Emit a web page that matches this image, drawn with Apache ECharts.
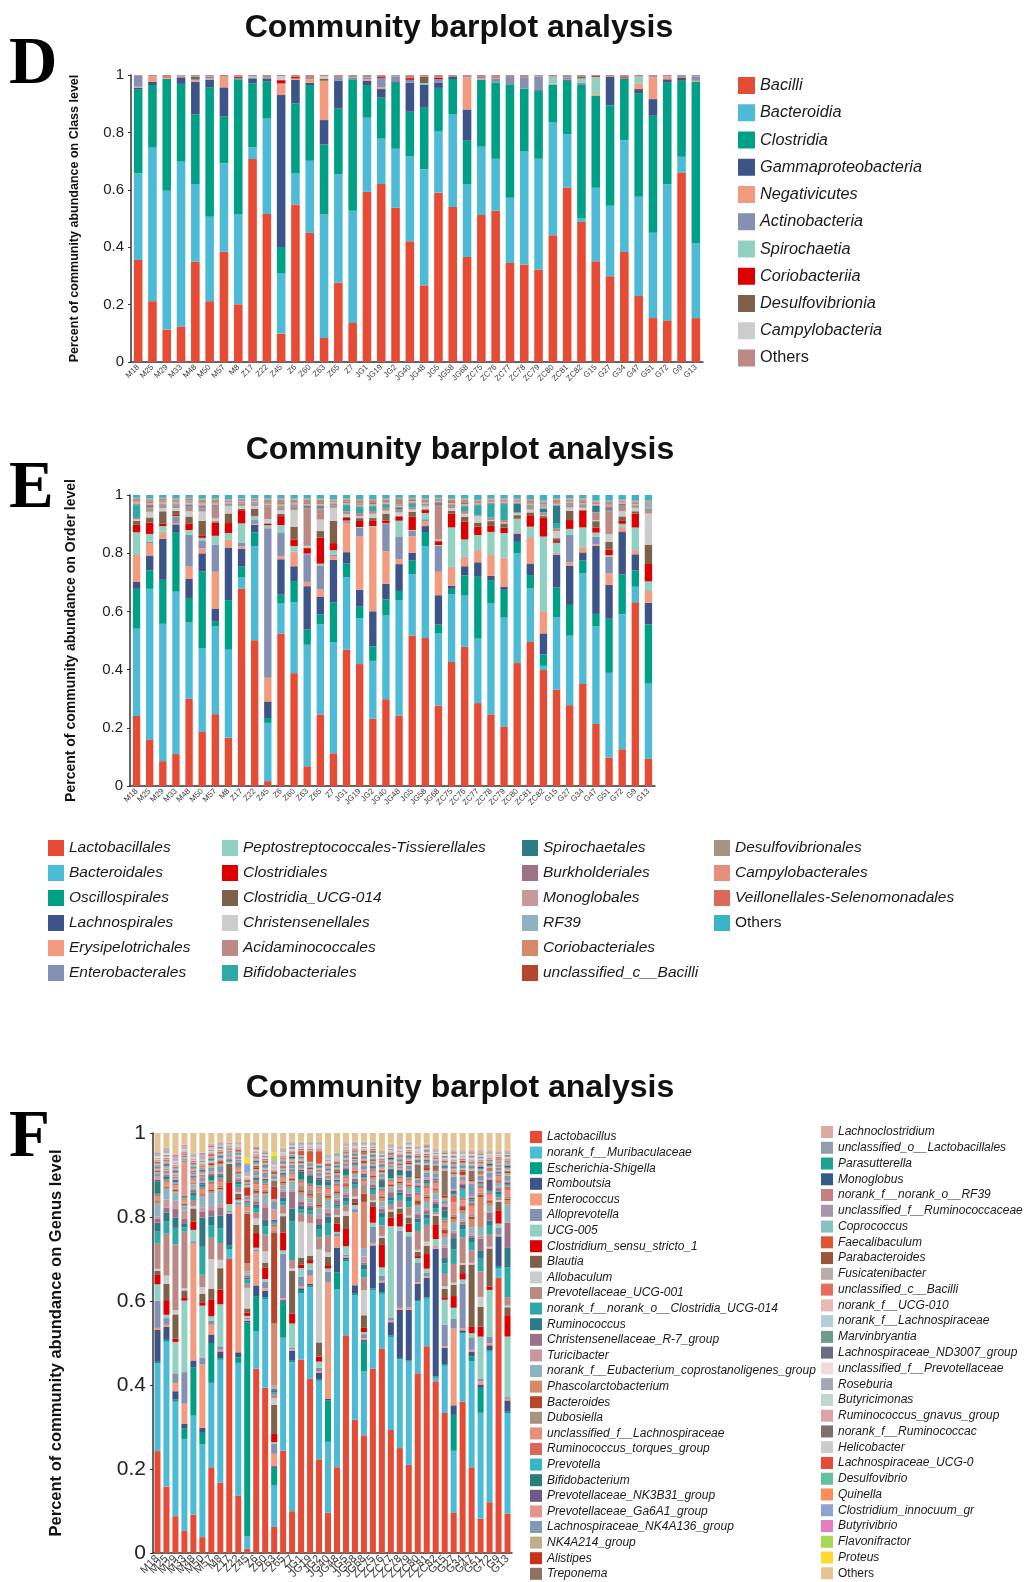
<!DOCTYPE html>
<html>
<head>
<meta charset="utf-8">
<script src="https://cdn.jsdelivr.net/npm/echarts/dist/echarts.min.js"></script>
<style>
  html, body { margin: 0; padding: 0; background: #ffffff; }
  #chart { width: 1024px; height: 1582px; }
</style>
</head>
<body>
<div id="chart"></div>
<script>
// ---------- samples (x-axis categories, shared by the three panels) ----------
const samples = ['M18','M25','M29','M33','M48','M50','M57','M8','Z17','Z22','Z45','Z6','Z60','Z63','Z65','Z7','JG1','JG19','JG2','JG40','JG48','JG5','JG58','JG68','ZC75','ZC76','ZC77','ZC78','ZC79','ZC80','ZC81','ZC82','G15','G27','G34','G47','G51','G72','G9','G13'];

// ---------- D: class level ----------
const classNames = ['Bacilli','Bacteroidia','Clostridia','Gammaproteobacteria','Negativicutes','Actinobacteria','Spirochaetia','Coriobacteriia','Desulfovibrionia','Campylobacteria','Others'];
const classBacilli = [.355,.212,.113,.124,.350,.212,.384,.201,.707,.516,.099,.549,.450,.084,.276,.136,.593,.620,.537,.421,.267,.590,.540,.366,.512,.527,.345,.340,.322,.442,.607,.488,.351,.299,.383,.230,.153,.145,.660,.153];
const classBacteroidia = [.302,.535,.484,.574,.270,.294,.308,.315,.041,.332,.209,.108,.251,.430,.379,.391,.258,.158,.206,.296,.405,.215,.324,.254,.238,.181,.227,.395,.386,.392,.187,.013,.256,.245,.390,.346,.297,.474,.055,.262];
const classClostridia = [.294,.218,.390,.271,.243,.451,.163,.469,.223,.129,.093,.244,.264,.244,.228,.458,.114,.143,.230,.155,.214,.150,.122,.153,.233,.266,.393,.218,.236,.132,.186,.464,.320,.351,.213,.360,.408,.354,.265,.562];
const classGamma = [.004,.012,0,.023,.113,.026,.102,0,.015,.011,.529,.082,.008,.085,.097,0,.014,.030,.005,.101,.081,.019,.007,.107,0,0,0,0,.003,0,.004,0,0,.099,0,.015,.058,.012,.010,0];
const classNegativicutes = [.004,.018,.005,.005,.005,.004,.037,0,0,0,.038,.005,.012,.137,0,0,.006,.006,0,0,0,0,0,.112,.004,0,0,0,0,.003,0,0,.006,0,0,.020,.076,.010,0,.003];
const classActino = [.038,0,0,0,.005,.008,0,.005,.005,.004,.003,0,0,0,.010,.006,.006,.033,.016,.010,0,.012,0,.004,.006,.014,.028,.037,.048,0,.008,.008,0,0,.005,0,.004,0,0,.015];
const classSpirochaetia = [0,0,0,0,0,0,0,0,.004,0,0,0,0,0,0,0,0,0,0,0,.005,0,0,0,0,0,0,0,0,.025,0,.015,.060,0,0,.023,0,0,0,0];
const classCoriobacteriia = [0,0,.003,0,0,0,0,.004,0,0,.011,.006,0,0,0,0,0,.005,0,.006,0,.004,0,0,0,0,0,0,0,0,0,0,.003,0,.004,0,0,0,0,0];
const classDesulfo = [0,0,0,0,.008,0,0,0,0,0,0,0,0,.006,0,0,0,0,0,0,.022,0,0,0,0,0,0,0,0,0,0,.007,0,0,0,0,0,0,0,0];
const classCampylo = [0,0,0,0,0,0,0,0,0,0,.014,0,0,.010,0,0,0,0,0,0,0,0,0,0,0,0,0,0,0,0,0,0,0,0,0,0,0,0,0,0];
const classOthers = [.003,.005,.005,.003,.006,.005,.006,.006,.005,.008,.004,.006,.015,.004,.010,.009,.009,.005,.006,.011,.006,.010,.007,.004,.007,.012,.007,.010,.005,.006,.008,.005,.004,.006,.005,.006,.004,.005,.010,.005];
const classColors = ['#E64B35','#4DBBD5','#00A087','#3C5488','#F39B7F','#8491B4','#91D1C2','#DC0000','#7E6148','#CCCCCC','#BC8A84'];

// ---------- E: order level ----------
const orderNames = ['Lactobacillales','Bacteroidales','Oscillospirales','Lachnospirales','Erysipelotrichales','Enterobacterales','Peptostreptococcales-Tissierellales','Clostridiales','Clostridia_UCG-014','Christensenellales','Acidaminococcales','Bifidobacteriales','Spirochaetales','Burkholderiales','Monoglobales','RF39','Coriobacteriales','unclassified_c__Bacilli','Desulfovibrionales','Campylobacterales','Veillonellales-Selenomonadales','Others'];
const ordLacto = [.244,.164,.087,.112,.304,.189,.252,.170,.688,.511,.017,.534,.396,.069,.250,.115,.479,.427,.236,.304,.247,.525,.519,.282,.436,.488,.292,.252,.210,.433,.505,.407,.336,.284,.359,.218,.099,.129,.645,.095];
const ordBactero = [.304,.530,.481,.570,.266,.292,.307,.311,.041,.329,.204,.105,.249,.425,.315,.389,.255,.161,.203,.293,.404,.214,.323,.252,.238,.180,.227,.391,.383,.387,.188,.015,.254,.244,.389,.343,.296,.474,.054,.264];
const ordOscillo = [.139,.065,.154,.209,.086,.270,.017,.175,.036,.049,.017,.031,.074,.054,.034,.141,.048,.040,.051,.056,.032,.047,.049,.031,.020,.071,.218,.082,.098,.040,.047,.040,.104,.108,.046,.044,.189,.139,.057,.208];
const ordLachno = [.024,.052,.144,.027,.066,.063,.046,.184,.063,.027,.058,.124,.052,.151,.063,.149,.040,.059,.123,.055,.094,.027,.021,.103,.010,.032,.051,.015,.010,.028,.039,.074,.114,.137,.028,.240,.118,.151,.057,.076];
const ordErysip = [.094,.044,.022,.005,.043,.018,.129,.028,.008,.003,.083,.011,.049,.015,.025,.014,.103,.187,.295,.114,.017,.058,.016,.082,.065,.031,.040,.074,.101,.005,.092,.077,.005,.012,.018,.005,.040,.015,.012,.042];
const ordEntero = [.002,.005,.002,.022,.111,.025,.094,.002,.012,.013,.524,.083,.002,.097,.084,.005,.006,.031,.002,.096,.080,.020,.008,.092,.002,.002,.002,.002,.002,.002,.002,.002,.002,.097,.002,.026,.058,.002,.002,.002];
const ordPepto = [.077,.027,.020,.002,.017,.011,.032,.023,.068,.014,.010,.026,.020,.002,.006,.015,.002,.002,.002,.002,.055,.002,.022,.002,.139,.061,.054,.079,.087,.047,.037,.261,.035,.021,.068,.015,.006,.010,.080,.031];
const ordClostridiales = [.026,.040,.008,.006,.023,.009,.046,.035,.046,.003,.005,.031,.023,.019,.091,.025,.010,.021,.018,.010,.014,.046,.010,.013,.049,.063,.030,.021,.019,.002,.040,.066,.006,.031,.058,.017,.019,.010,.049,.061];
const ordUCG014 = [.014,.018,.044,.012,.024,.051,.005,.034,.005,.023,.002,.008,.045,.002,.023,.078,.003,.010,.010,.024,.003,.017,.003,.003,.010,.017,.014,.017,.015,.010,.010,.006,.010,.032,.003,.023,.028,.016,.008,.068];
const ordChristens = [.005,.020,.011,.010,.018,.032,.010,.025,.010,.010,.015,.012,.058,.006,.040,.046,.010,.006,.015,.010,.012,.008,.010,.003,.008,.010,.022,.003,.003,.006,.010,.002,.025,.012,.008,.003,.027,.018,.012,.109];
const ordAcidamino = [.005,.012,.008,.008,.012,.010,.040,.003,.008,.008,.045,.010,.012,.130,.035,.008,.010,.012,.010,.010,.009,.009,.003,.117,.008,.010,.003,.009,.009,.002,.010,.010,.010,.010,.006,.027,.078,.015,.003,.012];
const ordBifido = [.044,.002,.002,.002,.002,.002,.002,.002,.002,.002,.001,.002,.002,.001,.002,.002,.020,.020,.015,.010,.002,.012,.002,.002,.002,.015,.035,.048,.056,.002,.002,.002,.018,.002,.002,.002,.002,.002,.002,.002];
const ordSpiro = [.002,.002,.002,.002,.002,.002,.002,.002,.001,.001,.001,.002,.002,.001,.002,.002,.002,.002,.002,.002,.006,.002,.002,.002,.002,.002,.002,.002,.002,.031,.002,.012,.061,.002,.002,.022,.002,.002,.002,.002];
const ordBurkhold = [.004,.008,.002,.002,.008,.008,.003,.002,.002,.002,.002,.002,.002,.010,.010,.002,.002,.002,.002,.002,.002,.002,.002,.010,.002,.002,.002,.002,.002,.002,.002,.002,.002,.002,.002,.002,.012,.007,.002,.002];
const ordMonoglob = [.003,.003,.003,.003,.003,.003,.003,.003,.002,.002,.002,.002,.003,.002,.003,.003,.002,.002,.002,.002,.002,.002,.002,.002,.002,.002,.002,.002,.002,.002,.002,.002,.002,.002,.002,.002,.002,.002,.002,.002];
const ordRF39 = [.003,.003,.002,.002,.006,.003,.002,.002,.002,.002,.002,.002,.002,.002,.002,.002,.002,.002,.002,.002,.002,.002,.002,.002,.002,.002,.002,.002,.002,.002,.002,.012,.002,.002,.002,.002,.002,.002,.002,.014];
const ordCorio = [.002,.002,.005,.002,.002,.002,.002,.002,.002,.002,.002,.002,.002,.002,.002,.002,.002,.002,.002,.002,.002,.002,.002,.002,.002,.002,.002,.002,.002,.002,.002,.002,.002,.002,.002,.002,.002,.002,.002,.002];
const ordUnclBacilli = [.003,.003,.002,.002,.002,.002,.002,.002,.003,.003,.003,.003,.002,.002,.002,.002,.003,.003,.003,.003,.002,.003,.003,.002,.005,.005,.003,.003,.003,.002,.003,.003,.003,.003,.003,.003,.002,.002,.003,.002];
const ordDesulfo = [.005,.008,.006,.007,.006,.010,.010,.003,.002,.002,.010,.013,.010,.012,.012,.003,.008,.012,.010,.006,.020,.003,.006,.003,.006,.010,.003,.003,.003,.003,.008,.003,.010,.003,.008,.003,.010,.003,.003,.003];
const ordCampylo = [.002,.002,.002,.002,.002,.002,.002,.002,.001,.001,.002,.002,.002,.002,.002,.002,.002,.002,.002,.002,.002,.002,.002,.002,.002,.002,.002,.002,.002,.002,.002,.002,.002,.002,.002,.002,.002,.002,.002,.002];
const ordVeillon = [.002,.002,.002,.002,.002,.002,.002,.002,.001,.001,.002,.002,.002,.002,.002,.002,.002,.002,.002,.002,.002,.002,.002,.002,.002,.002,.002,.002,.002,.002,.002,.002,.002,.002,.002,.002,.002,.002,.002,.002];
const ordOthers = [.010,.012,.010,.012,.010,.012,.012,.015,.012,.012,.012,.012,.012,.012,.012,.015,.012,.014,.014,.012,.010,.010,.012,.010,.012,.012,.017,.012,.012,.013,.014,.020,.012,.012,.012,.020,.020,.016,.020,.020];
const orderColors = ['#E64B35','#4DBBD5','#00A087','#3C5488','#F39B7F','#8491B4','#91D1C2','#DC0000','#7E6148','#CCCCCC','#BC8A84','#2EA9A5','#2E7A87','#9E7286','#C7989E','#8EB3C0','#D5896A','#B4472B','#A89382','#E88E7C','#D96A5A','#3BB5C5'];

// ---------- F: genus level ----------
const genusNames = ['Lactobacillus','norank_f__Muribaculaceae','Escherichia-Shigella','Romboutsia','Enterococcus','Alloprevotella','UCG-005','Clostridium_sensu_stricto_1','Blautia','Allobaculum','Prevotellaceae_UCG-001','norank_f__norank_o__Clostridia_UCG-014','Ruminococcus','Christensenellaceae_R-7_group','Turicibacter','norank_f__Eubacterium_coprostanoligenes_group','Phascolarctobacterium','Bacteroides','Dubosiella','unclassified_f__Lachnospiraceae','Ruminococcus_torques_group','Prevotella','Bifidobacterium','Prevotellaceae_NK3B31_group','Prevotellaceae_Ga6A1_group','Lachnospiraceae_NK4A136_group','NK4A214_group','Alistipes','Treponema',
  'Lachnoclostridium','unclassified_o__Lactobacillales','Parasutterella','Monoglobus','norank_f__norank_o__RF39','unclassified_f__Ruminococcaceae','Coprococcus','Faecalibaculum','Parabacteroides','Fusicatenibacter','unclassified_c__Bacilli','norank_f__UCG-010','norank_f__Lachnospiraceae','Marvinbryantia','Lachnospiraceae_ND3007_group','unclassified_f__Prevotellaceae','Roseburia','Butyricimonas','Ruminococcus_gnavus_group','norank_f__Ruminococcac','Helicobacter','Lachnospiraceae_UCG-0','Desulfovibrio','Quinella','Clostridium_innocuum_gr','Butyrivibrio','Flavonifractor','Proteus','Others'];
const gLactobacillus = [.243,.159,.088,.052,.091,.038,.202,.167,.687,.135,.010,.440,.394,.063,.245,.100,.460,.423,.229,.096,.203,.519,.315,.280,.437,.486,.293,.249,.210,.429,.495,.405,.335,.096,.358,.206,.081,.120,.644,.094];
const gMuribaculaceae = [.209,.348,.274,.216,.235,.223,.199,.293,.023,.313,.031,.090,.211,.100,.270,.356,.157,.221,.192,.168,.421,.176,.294,.153,.187,.131,.222,.211,.246,.172,.114,.008,.113,.149,.161,.254,.250,.356,.023,.241];
const gEscherichia = [.004,.003,.005,.024,.115,.027,.094,.004,.008,.013,.517,.082,.004,.043,.086,.004,.008,.004,.004,.098,.040,.004,.004,.070,.004,.004,.004,.003,.003,.003,.003,.003,.004,.086,.003,.012,.059,.003,.003,.003];
const gRomboutsia = [.076,.031,.020,.012,.016,.012,.020,.016,.074,.012,.004,.027,.016,.004,.004,.024,.004,.004,.016,.004,.058,.004,.020,.004,.102,.023,.031,.114,.121,.039,.047,.301,.039,.023,.004,.012,.008,.012,.071,.027];
const gEnterococcus = [.005,.005,.020,.047,.278,.152,.023,.004,.004,.348,.004,.082,.006,.030,.005,.003,.005,.020,.004,.278,.028,.004,.172,.004,.005,.004,.004,.005,.005,.004,.004,.005,.004,.184,.005,.004,.008,.005,.004,.004];
const gAlloprevotella = [.065,.016,.023,.074,.005,.016,.010,.008,.003,.004,.004,.004,.016,.024,.106,.004,.023,.015,.008,.024,.005,.004,.008,.010,.039,.012,.006,.183,.170,.047,.008,.003,.051,.023,.105,.030,.005,.016,.016,.004];
const gUCG005 = [.039,.008,.075,.168,.027,.125,.010,.100,.016,.008,.004,.004,.006,.004,.008,.058,.020,.015,.015,.008,.005,.020,.010,.005,.010,.020,.219,.010,.010,.010,.010,.015,.060,.027,.010,.010,.100,.110,.010,.145];
const gClostridiumSS1 = [.024,.035,.008,.008,.020,.008,.040,.035,.051,.004,.008,.035,.027,.020,.043,.024,.008,.008,.012,.008,.020,.043,.005,.010,.039,.055,.020,.031,.020,.005,.035,.035,.006,.028,.015,.015,.024,.008,.031,.051];
const gBlautia = [.008,.039,.058,.016,.031,.020,.025,.051,.043,.010,.010,.020,.012,.070,.039,.102,.016,.010,.035,.020,.015,.030,.010,.030,.010,.015,.015,.012,.015,.010,.020,.020,.020,.027,.020,.150,.046,.090,.020,.019];
const gAllobaculum = [.005,.020,.010,.005,.005,.016,.070,.020,.003,.004,.050,.015,.027,.016,.006,.006,.086,.080,.227,.010,.005,.010,.005,.060,.004,.005,.004,.003,.004,.005,.010,.004,.006,.005,.004,.004,.024,.004,.004,.004];
const gPrevUCG001 = [.060,.100,.157,.133,.015,.030,.050,.040,.002,.010,.010,.015,.040,.010,.020,.020,.020,.020,.030,.040,.015,.015,.020,.030,.015,.025,.012,.015,.020,.045,.040,.004,.030,.045,.060,.030,.060,.030,.006,.020];
const gClostridiaUCG014 = [.030,.030,.040,.010,.010,.067,.030,.035,.002,.008,.010,.010,.020,.005,.010,.093,.010,.010,.020,.030,.005,.010,.008,.020,.010,.020,.010,.012,.015,.020,.015,.010,.025,.035,.020,.020,.030,.020,.008,.071];
const gRuminococcus = [.020,.020,.025,.010,.008,.070,.020,.030,.002,.006,.005,.008,.015,.005,.008,.030,.008,.006,.010,.015,.005,.008,.006,.010,.005,.010,.008,.008,.010,.010,.010,.010,.013,.027,.010,.010,.020,.012,.006,.047];
const gChristensR7 = [.010,.012,.020,.010,.006,.015,.015,.020,.002,.006,.005,.008,.030,.003,.015,.040,.010,.006,.015,.010,.010,.008,.008,.005,.008,.010,.012,.006,.008,.010,.010,.005,.025,.012,.008,.005,.027,.018,.008,.060];
const gTuricibacter = [.005,.020,.020,.020,.005,.010,.010,.010,.002,.004,.005,.006,.010,.004,.004,.005,.006,.008,.010,.010,.004,.005,.003,.015,.003,.005,.003,.003,.003,.004,.005,.005,.005,.006,.005,.005,.008,.004,.004,.004];
const gEubacteriumCopro = [.030,.025,.020,.010,.008,.025,.030,.030,.002,.008,.005,.010,.020,.005,.010,.020,.010,.010,.015,.020,.008,.010,.008,.020,.008,.012,.008,.008,.010,.015,.015,.015,.020,.020,.015,.015,.020,.012,.006,.040];
const gPhascolarcto = [.003,.003,.003,.003,.002,.003,.004,.003,.001,.003,.020,.004,.004,.149,.006,.003,.006,.006,.005,.005,.004,.005,.003,.110,.006,.008,.003,.005,.005,.004,.008,.008,.008,.008,.006,.020,.070,.008,.003,.010];
const gBacteroides = [.003,.003,.003,.003,.002,.003,.004,.004,.001,.003,.120,.006,.004,.219,.004,.003,.005,.004,.004,.005,.005,.004,.004,.020,.004,.004,.003,.003,.003,.010,.005,.002,.010,.006,.010,.006,.006,.004,.003,.004];
const gDubosiella = [.003,.003,.003,.003,.002,.003,.004,.004,.001,.003,.005,.004,.004,.005,.003,.003,.010,.010,.030,.005,.003,.004,.002,.020,.003,.003,.003,.003,.003,.003,.004,.003,.004,.004,.004,.004,.005,.003,.003,.004];
const gUnclLachno = [.008,.008,.008,.006,.005,.008,.010,.010,.002,.006,.010,.010,.010,.010,.006,.008,.008,.008,.010,.010,.010,.010,.006,.010,.008,.010,.006,.006,.008,.010,.015,.010,.012,.030,.010,.020,.010,.012,.008,.015];
const gRumTorques = [.004,.004,.004,.003,.003,.004,.005,.006,.001,.004,.005,.006,.005,.005,.004,.004,.004,.004,.005,.005,.005,.005,.003,.005,.004,.005,.004,.004,.004,.005,.008,.006,.006,.015,.005,.010,.006,.006,.005,.010];
const gPrevotella = [.003,.003,.003,.002,.002,.003,.004,.004,.001,.003,.005,.004,.004,.005,.003,.003,.003,.003,.003,.004,.003,.003,.003,.004,.003,.004,.003,.003,.003,.010,.004,.002,.006,.004,.020,.004,.004,.003,.002,.003];
const gBifidobacterium = [.030,.006,.003,.002,.002,.006,.010,.004,.001,.002,.002,.003,.003,.002,.002,.002,.020,.020,.015,.010,.002,.012,.002,.003,.003,.015,.020,.010,.012,.003,.004,.002,.018,.003,.003,.003,.002,.002,.002,.002];
const gNK3B31 = [.003,.003,.003,.002,.002,.003,.004,.004,0,.002,.003,.004,.004,.005,.003,.003,.004,.003,.004,.004,.004,.004,.003,.005,.003,.004,.003,.003,.004,.005,.005,.002,.008,.005,.010,.005,.004,.025,.003,.005];
const gGa6A1 = [.008,.005,.004,.080,.003,.004,.006,.004,0,.003,.005,.005,.004,.025,.003,.003,.004,.003,.004,.004,.004,.004,.003,.010,.003,.004,.003,.003,.003,.005,.005,.002,.006,.005,.010,.004,.004,.004,.003,.004];
const gNK4A136 = [.008,.006,.004,.004,.004,.008,.010,.015,0,.005,.005,.010,.010,.020,.005,.008,.008,.006,.008,.006,.008,.008,.005,.010,.005,.008,.005,.005,.008,.008,.012,.010,.010,.030,.008,.030,.010,.012,.006,.012];
const gNK4A214 = [.003,.003,.002,.002,.002,.004,.005,.006,0,.003,.003,.005,.004,.005,.004,.004,.004,.003,.003,.003,.004,.004,.002,.005,.003,.005,.004,.003,.004,.004,.006,.005,.006,.006,.004,.005,.005,.005,.003,.006];
const gAlistipes = [.002,.001,.001,.001,.002,.002,.003,.004,0,.002,.020,.004,.002,.030,.003,.002,.003,.003,.002,.002,.003,.002,.002,.005,.002,.003,.002,.002,.004,.003,.005,.002,.005,.003,.008,.005,.003,.003,.002,.003];
const gTreponema = [.002,.001,.001,.001,.002,.002,.003,.004,0,.002,.002,.004,.002,.015,.002,.002,.002,.002,.002,.002,.006,.002,.002,.002,.002,.003,.002,.002,.004,.030,.008,.012,.060,.003,.004,.020,.003,.003,.002,.003];
const gLachnoclostridium = [.003,.004,.003,.002,.003,.004,.003,.004,.001,.003,.003,.004,.003,.003,.003,.004,.003,.003,.003,.003,.003,.003,.002,.003,.003,.004,.003,.003,.004,.003,.004,.003,.004,.005,.003,.004,.003,.003,.002,.004];
const gUnclLactobacillales = [.002,.002,.002,.002,.003,.002,.002,.002,.003,.003,.001,.003,.003,.002,.002,.002,.003,.003,.002,.002,.002,.003,.003,.002,.003,.003,.002,.002,.002,.002,.003,.003,.002,.002,.002,.002,.002,.002,.003,.002];
const gParasutterella = [.002,.003,.002,.001,.002,.002,.002,.002,.001,.002,.002,.002,.002,.003,.002,.002,.002,.002,.002,.002,.003,.002,.002,.002,.002,.002,.002,.002,.002,.003,.002,.001,.003,.002,.003,.002,.002,.002,.001,.002];
const gMonoglobus = [.002,.002,.002,.001,.001,.003,.002,.002,.001,.001,.001,.002,.002,.001,.002,.003,.001,.001,.002,.002,.001,.002,.001,.001,.002,.002,.003,.002,.003,.002,.002,.002,.003,.002,.002,.003,.003,.003,.001,.004];
const gRF39 = [.003,.002,.002,.001,.001,.002,.002,.002,.001,.001,.001,.002,.002,.002,.002,.002,.001,.001,.002,.002,.001,.001,.001,.002,.001,.002,.002,.002,.002,.002,.002,.002,.002,.002,.002,.002,.003,.002,.001,.003];
const gUnclRuminococcaceae = [.002,.002,.002,.001,.002,.003,.002,.002,.001,.001,.001,.002,.002,.002,.002,.003,.001,.001,.002,.002,.001,.002,.001,.002,.002,.002,.003,.002,.002,.002,.002,.002,.003,.002,.002,.002,.003,.002,.001,.003];
const gCoprococcus = [.002,.002,.002,.001,.002,.002,.002,.002,.001,.001,.001,.002,.002,.002,.002,.002,.002,.002,.002,.002,.002,.002,.001,.002,.002,.002,.002,.002,.002,.002,.002,.002,.002,.003,.002,.003,.002,.002,.001,.002];
const gFaecalibaculum = [.002,.002,.002,.002,.002,.002,.003,.002,.001,.002,.002,.003,.002,.003,.002,.002,.008,.025,.030,.003,.002,.003,.002,.005,.002,.002,.002,.002,.002,.002,.002,.002,.002,.003,.002,.002,.002,.002,.002,.002];
const gParabacteroides = [.002,.002,.002,.001,.002,.002,.002,.002,.001,.002,.004,.002,.002,.004,.002,.002,.002,.002,.002,.002,.002,.002,.002,.003,.002,.002,.002,.002,.002,.003,.002,.001,.002,.002,.003,.002,.002,.002,.001,.002];
const gFusicatenibacter = [.002,.002,.002,.001,.002,.002,.002,.002,.001,.001,.001,.002,.002,.002,.002,.002,.002,.002,.002,.002,.002,.002,.001,.002,.002,.002,.002,.002,.002,.002,.002,.002,.002,.003,.002,.003,.002,.002,.001,.002];
const gUnclBacilli = [.002,.002,.002,.002,.003,.002,.002,.002,.003,.003,.001,.003,.003,.002,.002,.002,.003,.003,.003,.002,.002,.003,.003,.002,.003,.003,.002,.002,.002,.002,.003,.003,.002,.002,.003,.002,.002,.002,.004,.002];
const gUCG010 = [.002,.002,.002,.001,.001,.002,.002,.002,.001,.001,.001,.002,.002,.002,.002,.002,.001,.001,.001,.002,.001,.001,.001,.002,.001,.002,.002,.002,.002,.002,.002,.002,.002,.002,.002,.002,.002,.002,.001,.003];
const gNorankLachno = [.002,.002,.002,.001,.002,.002,.002,.002,.001,.001,.001,.002,.002,.002,.002,.002,.002,.002,.002,.002,.002,.002,.001,.002,.002,.002,.002,.002,.002,.002,.003,.002,.002,.003,.002,.003,.002,.002,.001,.002];
const gMarvinbryantia = [.001,.002,.001,.001,.001,.002,.001,.002,.001,.001,.001,.001,.002,.001,.001,.002,.001,.001,.001,.001,.001,.001,.001,.001,.001,.002,.001,.001,.002,.001,.002,.001,.002,.002,.001,.002,.002,.001,.001,.002];
const gND3007 = [.001,.002,.001,.001,.001,.002,.001,.002,.001,.001,.001,.001,.002,.001,.001,.002,.001,.001,.001,.001,.001,.001,.001,.001,.001,.002,.001,.001,.002,.001,.002,.001,.002,.002,.001,.002,.002,.001,.001,.002];
const gUnclPrevotellaceae = [.002,.002,.001,.001,.001,.001,.001,.001,.001,.001,.002,.001,.001,.002,.002,.002,.001,.001,.001,.001,.002,.001,.002,.002,.001,.001,.001,.002,.002,.002,.001,.001,.002,.001,.002,.001,.001,.002,.001,.001];
const gRoseburia = [.001,.001,.001,.001,.001,.002,.001,.001,.001,.001,.001,.001,.001,.001,.001,.001,.001,.001,.001,.001,.001,.001,.001,.001,.001,.001,.001,.001,.001,.001,.002,.001,.001,.002,.001,.002,.001,.001,.001,.001];
const gButyricimonas = [.001,.001,.001,.001,.001,.001,.001,.001,.001,.001,.001,.001,.001,.002,.001,.001,.001,.001,.001,.001,.001,.001,.001,.001,.001,.001,.001,.001,.001,.002,.001,.001,.001,.001,.002,.001,.001,.001,.001,.001];
const gRumGnavus = [.002,.002,.001,.001,.002,.001,.002,.001,.001,.001,.001,.002,.001,.001,.001,.001,.001,.001,.001,.002,.001,.001,.001,.001,.001,.001,.001,.001,.001,.001,.002,.001,.001,.002,.001,.002,.001,.001,.001,.001];
const gNorankRumino = [.001,.002,.001,.001,.001,.002,.001,.002,.001,.001,.001,.001,.002,.001,.001,.002,.001,.001,.001,.001,.001,.001,.001,.001,.001,.001,.002,.001,.001,.001,.001,.001,.002,.001,.001,.001,.002,.001,.001,.002];
const gHelicobacter = [.001,.001,.001,.001,.001,.001,.001,.001,0,.001,.002,.001,.001,.002,.001,.001,.001,.001,.001,.001,.001,.001,.001,.001,.001,.001,.001,.001,.001,.001,.001,.001,.001,.001,.001,.001,.001,.001,.001,.001];
const gLachnoUCG0 = [.002,.001,.001,.001,.001,.001,.002,.001,.001,.001,.001,.002,.001,.001,.001,.001,.001,.001,.001,.001,.001,.001,.001,.001,.001,.001,.001,.001,.001,.001,.002,.001,.001,.002,.001,.002,.001,.001,.001,.001];
const gDesulfovibrio = [.002,.002,.002,.001,.002,.002,.002,.001,.001,.001,.002,.002,.002,.002,.002,.001,.002,.002,.002,.002,.003,.001,.002,.001,.002,.002,.001,.001,.001,.001,.002,.001,.002,.001,.002,.001,.002,.001,.001,.001];
const gQuinella = [.001,.001,.001,.001,.001,.001,.001,.001,0,.001,.001,.001,.001,.002,.001,.001,.001,.001,.001,.001,.001,.001,.001,.001,.001,.001,.001,.001,.001,.001,.001,.001,.001,.001,.001,.001,.001,.001,.001,.001];
const gClostInnocuum = [.001,.001,.002,.001,.001,.001,.001,.001,0,.001,.020,.001,.001,.002,.001,.001,.001,.001,.001,.001,.001,.001,.001,.001,.001,.001,.001,.001,.001,.001,.001,.001,.001,.001,.001,.001,.001,.001,.001,.001];
const gButyrivibrio = [.001,.002,.008,.003,.001,.005,.001,.001,0,.001,.001,.001,.001,.002,.001,.001,.001,.001,.001,.001,.001,.001,.001,.001,.001,.001,.001,.001,.001,.001,.001,.001,.001,.001,.001,.001,.003,.001,.001,.001];
const gFlavonifractor = [.001,.001,.001,.001,.001,.001,.001,.001,0,.001,.003,.001,.001,.010,.001,.001,.001,.001,.001,.001,.001,.001,.001,.001,.001,.001,.001,.001,.001,.001,.001,.001,.001,.001,.001,.001,.001,.001,.001,.001];
const gProteus = [0,0,0,0,0,0,0,0,0,0,.012,0,0,.008,0,0,0,0,0,0,0,0,0,0,0,0,0,0,0,0,0,0,0,0,0,0,0,0,0,0];
const gOthers = [.043,.035,.050,.027,.047,.047,.025,.020,.023,.020,.060,.030,.040,.047,.035,.020,.020,.020,.020,.050,.045,.022,.020,.020,.020,.040,.025,.030,.020,.030,.025,.035,.040,.040,.040,.040,.040,.040,.040,.040];
const genusColors = ['#E64B35','#4DBBD5','#00A087','#3C5488','#F39B7F','#8491B4','#91D1C2','#DC0000','#7E6148','#CCCCCC','#BC8A84','#2EA9A5','#2E7A87','#9E7286','#C7989E','#8EB3C0','#D5896A','#B4472B','#A89382','#E88E7C','#D96A5A','#3BB5C5','#2A8079','#6C5B86','#E3958E','#7E9AB5','#BFAE8E','#C8321E','#8E7260',
  '#DDA9A3','#929EA8','#1FA28E','#2F5E87','#C78080','#A595AD','#86C2C0','#DD5533','#98553A','#B9ADA8','#E86B5C','#E9B9B6','#B2CFD8','#6F9A8E','#6A6E82','#F2DAD6','#A3A8B4','#C2D6D0','#DDA3A8','#7D6F6A','#CCCCCC','#E64B35','#5FC2A0','#FF8A5B','#8FA3D0','#E57EC0','#A6D854','#FFD92F','#E5C494'];

const classRows = [classBacilli, classBacteroidia, classClostridia, classGamma, classNegativicutes, classActino, classSpirochaetia, classCoriobacteriia, classDesulfo, classCampylo, classOthers];
const orderRows = [ordLacto, ordBactero, ordOscillo, ordLachno, ordErysip, ordEntero, ordPepto, ordClostridiales, ordUCG014, ordChristens, ordAcidamino, ordBifido, ordSpiro, ordBurkhold, ordMonoglob, ordRF39, ordCorio, ordUnclBacilli, ordDesulfo, ordCampylo, ordVeillon, ordOthers];
const genusRows = [gLactobacillus, gMuribaculaceae, gEscherichia, gRomboutsia, gEnterococcus, gAlloprevotella, gUCG005, gClostridiumSS1, gBlautia, gAllobaculum, gPrevUCG001, gClostridiaUCG014, gRuminococcus, gChristensR7, gTuricibacter, gEubacteriumCopro, gPhascolarcto, gBacteroides, gDubosiella, gUnclLachno, gRumTorques, gPrevotella, gBifidobacterium, gNK3B31, gGa6A1, gNK4A136, gNK4A214, gAlistipes, gTreponema,
  gLachnoclostridium, gUnclLactobacillales, gParasutterella, gMonoglobus, gRF39, gUnclRuminococcaceae, gCoprococcus, gFaecalibaculum, gParabacteroides, gFusicatenibacter, gUnclBacilli, gUCG010, gNorankLachno, gMarvinbryantia, gND3007, gUnclPrevotellaceae, gRoseburia, gButyricimonas, gRumGnavus, gNorankRumino, gHelicobacter, gLachnoUCG0, gDesulfovibrio, gQuinella, gClostInnocuum, gButyrivibrio, gFlavonifractor, gProteus, gOthers];

const FONT = 'Liberation Sans, Arial, sans-serif';

// Stacked relative-abundance bars: each sample column is scaled to a total of 1.
// The suffix keeps series names unique between panels that share a taxon label.
function stackSeries(names, colors, rows, idx, gap, suffix) {
  const totals = samples.map((_, i) => rows.reduce((s, r) => s + r[i], 0));
  return names.map((nm, k) => ({
    name: nm + suffix,
    type: 'bar',
    stack: 'panel' + idx,
    xAxisIndex: idx,
    yAxisIndex: idx,
    barCategoryGap: gap,
    itemStyle: { color: colors[k] },
    emphasis: { disabled: true },
    data: rows[k].map((v, i) => v / totals[i])
  }));
}

function xAxisCfg(idx, fontSize) {
  return {
    type: 'category', gridIndex: idx, data: samples,
    axisTick: { show: false },
    axisLine: { lineStyle: { color: '#333', width: 1.5 } },
    axisLabel: { rotate: 45, interval: 0, fontSize: fontSize, color: '#444', margin: 4, fontFamily: FONT }
  };
}

function yAxisCfg(idx, fontSize, name, nameSize, nameGap) {
  return {
    type: 'value', gridIndex: idx, min: 0, max: 1, interval: 0.2,
    splitLine: { show: false },
    axisLine: { show: true, lineStyle: { color: '#333', width: 1.5 } },
    axisTick: { show: true, length: 3, lineStyle: { color: '#333' } },
    axisLabel: { fontSize: fontSize, color: '#222', margin: 7, fontFamily: FONT },
    name: name, nameLocation: 'middle', nameGap: nameGap,
    nameTextStyle: { fontWeight: 'bold', fontSize: nameSize, color: '#111', fontFamily: FONT }
  };
}

function legendCfg(names, suffix, left, top, box, gap, fontSize) {
  return {
    orient: 'vertical', left: left, top: top, padding: 0,
    itemWidth: box, itemHeight: box, itemGap: gap, icon: 'rect',
    selectedMode: false,
    textStyle: { fontSize: fontSize, fontStyle: 'italic', color: '#1a1a1a', fontFamily: FONT, lineHeight: box },
    data: names.map(n => n === 'Others'
      ? { name: n + suffix, textStyle: { fontStyle: 'normal' } }
      : { name: n + suffix })
  };
}

const titleStyle = { text: 'Community barplot analysis', fontSize: 32, fontWeight: 'bold', fill: '#111', fontFamily: FONT, textAlign: 'center', textVerticalAlign: 'middle' };
const letterStyle = { fontSize: 67, fontWeight: 'bold', fill: '#000', fontFamily: 'Liberation Serif, Times New Roman, serif', textVerticalAlign: 'middle' };

const option = {
  animation: false,
  backgroundColor: '#ffffff',
  grid: [
    { left: 131, top: 75, width: 572, height: 287 },
    { left: 130, top: 495, width: 525, height: 291 },
    { left: 153, top: 1133, width: 359, height: 426 }
  ],
  xAxis: [xAxisCfg(0, 8), xAxisCfg(1, 8), xAxisCfg(2, 11)],
  yAxis: [
    yAxisCfg(0, 15, 'Percent of community abundance on Class level', 12.5, 50),
    yAxisCfg(1, 15, 'Percent of community abundance on Order level', 14, 52),
    yAxisCfg(2, 21, 'Percent of community abundance on Genus level', 16.5, 88)
  ],
  legend: [
    legendCfg(classNames, '', 738, 77, 17, 10.25, 16.3),
    legendCfg(orderNames.slice(0, 6), ' ', 48, 840, 16, 9, 15.5),
    legendCfg(orderNames.slice(6, 12), ' ', 222, 840, 16, 9, 15.5),
    legendCfg(orderNames.slice(12, 18), ' ', 522, 840, 16, 9, 15.5),
    legendCfg(orderNames.slice(18, 22), ' ', 714, 840, 16, 9, 15.5),
    legendCfg(genusNames.slice(0, 29), '  ', 530, 1131, 12, 3.6, 12),
    legendCfg(genusNames.slice(29), '  ', 821, 1126, 12, 3.76, 12)
  ],
  graphic: [
    { type: 'text', x: 459, y: 28, style: titleStyle },
    { type: 'text', x: 460, y: 450, style: titleStyle },
    { type: 'text', x: 460, y: 1088, style: titleStyle },
    { type: 'text', x: 9, y: 66, style: Object.assign({ text: 'D' }, letterStyle) },
    { type: 'text', x: 9, y: 490, style: Object.assign({ text: 'E' }, letterStyle) },
    { type: 'text', x: 9, y: 1139, style: Object.assign({ text: 'F' }, letterStyle) }
  ],
  series: [].concat(
    stackSeries(classNames, classColors, classRows, 0, '40%', ''),
    stackSeries(orderNames, orderColors, orderRows, 1, '44%', ' '),
    stackSeries(genusNames, genusColors, genusRows, 2, '33%', '  ')
  )
};

const chart = echarts.init(document.getElementById('chart'), null, { renderer: 'canvas' });
chart.setOption(option);
</script>
</body>
</html>
